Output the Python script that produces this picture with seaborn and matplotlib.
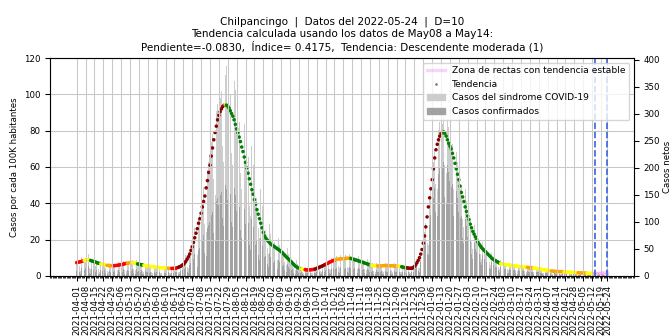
import pandas as pd
import seaborn as sns
import matplotlib
matplotlib.use("Agg")
import matplotlib.pyplot as plt
import matplotlib.dates as mdates
from matplotlib.lines import Line2D
from matplotlib.patches import Patch

ciudad = "Chilpancingo"
fecha_datos = "2022-05-24"
inicio = "2021-04-01"
poblacion = 336000

# curva de tendencia, casos por cada 100K habitantes (diaria, desde 2021-04-01)
tendencia_100k = [
    7.3, 7.5, 7.6, 7.8, 8.0, 8.2, 8.4,
    8.6, 8.7, 8.8, 8.7, 8.5, 8.2, 8.0,
    7.8, 7.6, 7.2, 7.0, 6.8, 6.6, 6.5,
    6.3, 6.1, 5.9, 5.8, 5.7, 5.6, 5.6,
    5.6, 5.6, 5.7, 5.7, 5.8, 5.9, 6.1,
    6.2, 6.3, 6.5, 6.7, 6.9, 7.0, 7.1,
    7.2, 7.3, 7.3, 7.1, 7.0, 6.8, 6.6,
    6.4, 6.3, 6.1, 6.0, 5.8, 5.7, 5.5,
    5.4, 5.3, 5.2, 5.1, 5.0, 5.0, 4.9,
    4.8, 4.7, 4.6, 4.6, 4.5, 4.4, 4.4,
    4.3, 4.2, 4.2, 4.1, 4.1, 4.1, 4.1,
    4.2, 4.2, 4.4, 4.7, 5.0, 5.3, 5.8,
    6.2, 7.0, 8.0, 9.2, 10.5, 12.0, 14.0,
    16.0, 18.5, 21.0, 23.5, 26.0, 29.0, 31.5,
    34.5, 38.0, 41.0, 44.0, 48.5, 52.5, 57.0,
    61.0, 66.0, 70.5, 75.0, 79.0, 82.5, 86.0,
    88.5, 90.5, 92.0, 93.3, 94.0, 94.3, 94.1,
    93.5, 92.5, 91.0, 89.5, 88.0, 86.0, 83.5,
    81.0, 79.0, 76.5, 74.0, 71.0, 68.5, 65.5,
    62.5, 59.5, 56.6, 53.5, 50.5, 47.5, 45.0,
    42.0, 39.5, 36.5, 34.0, 31.5, 29.0, 26.5,
    24.0, 22.0, 20.8, 19.8, 19.0, 18.2, 17.5,
    17.0, 16.5, 16.0, 15.5, 15.0, 14.5, 14.0,
    13.4, 12.7, 12.0, 11.3, 10.5, 9.8, 9.2,
    8.5, 7.8, 7.0, 6.3, 5.5, 5.0, 4.6,
    4.3, 4.0, 3.8, 3.6, 3.5, 3.4, 3.3,
    3.3, 3.3, 3.3, 3.4, 3.5, 3.6, 3.8,
    4.1, 4.4, 4.7, 5.0, 5.3, 5.6, 6.0,
    6.3, 6.7, 7.0, 7.4, 7.8, 8.1, 8.4,
    8.7, 9.0, 9.1, 9.2, 9.3, 9.4, 9.4,
    9.5, 9.5, 9.6, 9.7, 9.7, 9.7, 9.6,
    9.4, 9.1, 8.9, 8.7, 8.5, 8.2, 8.0,
    7.8, 7.5, 7.3, 7.0, 6.8, 6.5, 6.3,
    6.1, 5.9, 5.8, 5.6, 5.5, 5.5, 5.5,
    5.5, 5.5, 5.6, 5.6, 5.6, 5.7, 5.7,
    5.7, 5.6, 5.6, 5.6, 5.5, 5.5, 5.4,
    5.4, 5.3, 5.3, 5.2, 5.0, 4.8, 4.6,
    4.5, 4.4, 4.3, 4.2, 4.2, 4.2, 4.5,
    5.2, 6.0, 7.2, 8.5, 10.0, 12.0, 14.5,
    18.0, 22.0, 27.0, 32.5, 38.0, 43.0, 48.0,
    53.0, 59.0, 65.0, 69.5, 72.5, 75.0, 77.0,
    78.5, 79.5, 79.3, 78.5, 77.0, 75.0, 73.0,
    71.5, 70.0, 67.5, 65.0, 62.0, 59.0, 56.0,
    53.0, 49.5, 46.0, 43.5, 41.0, 38.0, 35.5,
    33.0, 31.0, 28.5, 26.5, 24.5, 23.0, 21.5,
    20.0, 18.5, 17.5, 16.5, 15.5, 14.7, 14.0,
    13.4, 12.6, 11.9, 11.2, 10.5, 9.7, 9.2,
    8.7, 8.3, 7.9, 7.5, 7.0, 6.8, 6.6,
    6.5, 6.3, 6.2, 6.1, 6.0, 5.9, 5.8,
    5.7, 5.6, 5.5, 5.4, 5.3, 5.2, 5.1,
    5.0, 5.0, 4.9, 4.8, 4.8, 4.7, 4.6,
    4.5, 4.5, 4.4, 4.3, 4.2, 4.1, 4.0,
    3.9, 3.8, 3.7, 3.5, 3.4, 3.3, 3.1,
    3.0, 2.9, 2.8, 2.7, 2.6, 2.5, 2.5,
    2.4, 2.4, 2.4, 2.3, 2.3, 2.3, 2.2,
    2.2, 2.1, 2.1, 2.0, 2.0, 1.9, 1.9,
    1.8, 1.8, 1.7, 1.7, 1.7, 1.6, 1.6,
    1.6, 1.5, 1.5, 1.5, 1.4, 1.4, 1.4,
    1.3, 1.3, 1.3,
]

# fecha en que empieza cada tramo de color de la tendencia
cambio_fechas = [
    "2021-04-01", "2021-04-07", "2021-04-12", "2021-04-20", "2021-04-25",
    "2021-04-30", "2021-05-11", "2021-05-15", "2021-05-19", "2021-05-24",
    "2021-06-12", "2021-06-15", "2021-06-20", "2021-07-27", "2021-07-28",
    "2021-09-25", "2021-09-28", "2021-10-06", "2021-10-15", "2021-10-22",
    "2021-11-03", "2021-11-19", "2021-11-24", "2021-12-10", "2021-12-13",
    "2021-12-17", "2022-01-14", "2022-01-15", "2022-03-01", "2022-03-22",
    "2022-03-27", "2022-04-10", "2022-04-20", "2022-05-01", "2022-05-08",
]
cambio_colores = [
    "red", "yellow", "green", "yellow", "orange",
    "red", "orange", "yellow", "green", "yellow",
    "orange", "red", "darkred", "yellow", "green",
    "yellow", "red", "darkred", "red", "orange",
    "green", "yellow", "orange", "yellow", "green",
    "darkred", "yellow", "green", "yellow", "orange",
    "yellow", "orange", "yellow", "orange", "yellow",
]

# casos netos diarios (desde 2021-04-01 hasta 2022-05-24)
casos_sindrome = [
    22, 31, 18, 9, 35, 28, 24,
    33, 27, 41, 14, 12, 30, 26,
    28, 19, 25, 12, 8, 27, 22,
    18, 24, 15, 9, 7, 23, 19,
    21, 17, 22, 8, 11, 25, 18,
    24, 20, 28, 10, 9, 26, 23,
    27, 22, 30, 13, 10, 29, 21,
    22, 19, 24, 9, 8, 22, 18,
    19, 15, 20, 7, 6, 19, 16,
    17, 14, 18, 6, 5, 17, 15,
    16, 13, 17, 6, 5, 15, 14,
    15, 17, 19, 7, 8, 21, 22,
    24, 29, 38, 16, 14, 45, 52,
    61, 70, 88, 42, 38, 105, 112,
    128, 140, 165, 96, 82, 196, 210,
    225, 248, 262, 180, 150, 305, 318,
    296, 330, 342, 240, 210, 372, 388,
    310, 318, 335, 228, 205, 360, 345,
    270, 255, 285, 190, 160, 300, 282,
    215, 198, 220, 130, 110, 240, 205,
    150, 132, 145, 88, 70, 160, 130,
    92, 80, 85, 52, 40, 96, 78,
    60, 55, 62, 35, 30, 70, 58,
    48, 42, 46, 25, 20, 52, 40,
    30, 26, 28, 14, 10, 30, 22,
    15, 14, 16, 7, 5, 16, 13,
    13, 12, 15, 6, 5, 16, 14,
    17, 16, 20, 9, 7, 22, 20,
    25, 24, 29, 13, 11, 33, 30,
    33, 30, 36, 18, 14, 39, 34,
    35, 32, 38, 17, 15, 41, 36,
    32, 29, 34, 15, 12, 37, 31,
    27, 24, 29, 12, 10, 31, 25,
    21, 19, 23, 9, 8, 24, 20,
    20, 18, 22, 9, 8, 23, 19,
    20, 19, 22, 10, 8, 23, 19,
    19, 17, 20, 8, 7, 21, 18,
    15, 14, 17, 7, 6, 18, 16,
    20, 24, 30, 15, 14, 42, 56,
    70, 82, 98, 60, 58, 140, 165,
    190, 210, 235, 170, 160, 270, 285,
    298, 282, 295, 205, 190, 290, 275,
    250, 238, 245, 160, 140, 230, 210,
    175, 160, 165, 105, 90, 160, 138,
    110, 98, 102, 62, 50, 95, 80,
    70, 64, 66, 40, 32, 62, 52,
    48, 42, 44, 26, 20, 42, 35,
    32, 29, 30, 17, 13, 29, 24,
    24, 22, 23, 12, 10, 23, 20,
    21, 20, 21, 10, 9, 21, 18,
    19, 17, 19, 9, 8, 18, 16,
    17, 15, 16, 8, 7, 16, 14,
    14, 12, 13, 6, 5, 13, 11,
    11, 10, 11, 5, 4, 10, 9,
    9, 8, 9, 4, 3, 9, 8,
    8, 7, 8, 3, 3, 8, 7,
    7, 6, 7, 3, 2, 7, 6,
    6, 5, 6, 2, 2, 6, 5,
    5, 4, 5, 2, 2, 5, 4,
    4, 3, 3, 1, 1, 2,
]
casos_confirmados = [
    9, 14, 7, 3, 15, 11, 10,
    14, 11, 18, 5, 4, 12, 10,
    12, 8, 10, 4, 3, 11, 9,
    7, 10, 6, 3, 2, 9, 8,
    8, 7, 9, 3, 4, 10, 7,
    10, 8, 12, 4, 3, 11, 9,
    11, 9, 13, 5, 4, 12, 8,
    9, 8, 10, 3, 3, 9, 7,
    8, 6, 8, 2, 2, 7, 6,
    7, 5, 7, 2, 2, 7, 6,
    6, 5, 7, 2, 2, 6, 5,
    6, 7, 8, 3, 3, 9, 10,
    11, 13, 17, 7, 6, 20, 24,
    28, 32, 40, 18, 16, 48, 52,
    58, 64, 75, 42, 36, 88, 95,
    100, 112, 118, 80, 66, 138, 145,
    132, 150, 155, 108, 92, 168, 160,
    140, 145, 152, 100, 90, 162, 150,
    120, 112, 128, 84, 70, 135, 124,
    96, 88, 98, 58, 48, 106, 90,
    66, 58, 64, 38, 30, 70, 56,
    40, 35, 37, 22, 17, 42, 34,
    26, 24, 27, 15, 12, 30, 25,
    20, 18, 20, 10, 8, 22, 17,
    12, 11, 12, 5, 4, 12, 9,
    6, 6, 7, 3, 2, 6, 5,
    5, 5, 6, 2, 2, 6, 6,
    7, 6, 8, 3, 3, 9, 8,
    10, 10, 12, 5, 4, 13, 12,
    13, 12, 15, 7, 5, 16, 14,
    14, 13, 15, 7, 6, 17, 14,
    13, 12, 14, 6, 5, 15, 12,
    11, 10, 12, 5, 4, 12, 10,
    8, 8, 9, 3, 3, 10, 8,
    8, 7, 9, 3, 3, 9, 8,
    8, 8, 9, 4, 3, 9, 8,
    8, 7, 8, 3, 3, 8, 7,
    6, 6, 7, 3, 2, 8, 7,
    10, 13, 17, 9, 8, 25, 34,
    45, 55, 66, 40, 38, 95, 112,
    130, 145, 162, 118, 110, 188, 200,
    215, 200, 210, 146, 135, 205, 192,
    175, 165, 170, 110, 96, 158, 144,
    118, 108, 110, 70, 60, 106, 92,
    72, 64, 66, 40, 32, 60, 50,
    44, 40, 41, 25, 20, 38, 32,
    29, 25, 26, 15, 12, 25, 21,
    18, 17, 17, 10, 7, 16, 13,
    13, 12, 12, 6, 5, 12, 11,
    11, 10, 11, 5, 4, 11, 9,
    10, 9, 10, 4, 4, 9, 8,
    8, 7, 8, 4, 3, 8, 7,
    7, 6, 6, 3, 2, 6, 5,
    5, 5, 5, 2, 2, 5, 4,
    4, 4, 4, 2, 1, 4, 4,
    4, 3, 4, 1, 1, 4, 3,
    3, 3, 3, 1, 1, 3, 3,
    3, 2, 3, 1, 1, 3, 2,
    2, 2, 2, 1, 1, 2, 2,
    2, 1, 1, 0, 0, 1,
]

# rectas con tendencia estable y ventana usada
zona_fechas = ["2022-05-14", "2022-05-24"]
zona_baja = [1.3, 0.8]
zona_alta = [1.3, 1.9]
lineas_ventana = ["2022-05-14", "2022-05-24"]

titulo = (f"{ciudad}  |  Datos del {fecha_datos}  |  D=10\n"
          "Tendencia calculada usando los datos de May08 a May14:\n"
          "Pendiente=-0.0830,  Índice= 0.4175,  Tendencia: Descendente moderada (1)")

df_tend = pd.DataFrame({
    "fecha": pd.date_range(inicio, periods=len(tendencia_100k), freq="D"),
    "valor": tendencia_100k,
})
cortes = pd.to_datetime(cambio_fechas)
idx = cortes.searchsorted(df_tend["fecha"], side="right") - 1
df_tend["nivel"] = [cambio_colores[i] for i in idx]

df_casos = pd.DataFrame({
    "fecha": pd.date_range(inicio, periods=len(casos_sindrome), freq="D"),
    "sindrome": casos_sindrome,
    "confirmados": casos_confirmados,
})

plt.rcParams["font.family"] = ["DejaVu Sans"]
fig, ax = plt.subplots(figsize=(7, 3.5), dpi=96)
fig.subplots_adjust(left=0.0744, right=0.9435, bottom=0.179, top=0.827)
ax2 = ax.twinx()

ax2.bar(df_casos["fecha"], df_casos["sindrome"], width=0.75, color="#cdcdcd")
ax2.bar(df_casos["fecha"], df_casos["confirmados"], width=0.75, color="#a2a2a2")
ax2.set_ylim(0, 120 * poblacion / 1e5)
ax2.set_ylabel("Casos netos", fontsize=6.5, labelpad=2)
ax2.tick_params(labelsize=6.5)

ax.set_zorder(ax2.get_zorder() + 1)
ax.patch.set_visible(False)

paleta = {c: c for c in set(cambio_colores)}
sns.scatterplot(data=df_tend, x="fecha", y="valor", hue="nivel", palette=paleta,
                s=7, linewidth=0, legend=False, ax=ax)

zf = pd.to_datetime(zona_fechas)
ax.plot(zf, zona_baja, color="violet", alpha=0.35, lw=2.5)
ax.plot(zf, zona_alta, color="violet", alpha=0.35, lw=2.5)
for f in lineas_ventana:
    ax.axvline(pd.Timestamp(f), color="royalblue", ls="--", lw=1.3)

ticks = list(pd.date_range(inicio, fecha_datos, freq="7D")) + [pd.Timestamp(fecha_datos)]
ax.set_xticks(ticks)
ax.xaxis.set_major_formatter(mdates.DateFormatter("%Y-%m-%d"))
ax.xaxis.set_minor_locator(mdates.DayLocator())
ax.tick_params(axis="x", labelrotation=90, labelsize=6.5)
ax.tick_params(axis="x", which="minor", length=1.5)
ax.tick_params(axis="y", labelsize=6.5)
ax.set_xlim(pd.Timestamp(inicio) - pd.Timedelta(days=21),
            pd.Timestamp(fecha_datos) + pd.Timedelta(days=21))
ax.set_ylim(0, 120)
ax.set_xlabel("")
ax.set_ylabel("Casos por cada 100K habitantes", fontsize=6.5)
ax.grid(True, color="#c8c8c8", lw=0.8)
ax.set_title(titulo, fontsize=7.8)

handles = [
    Line2D([], [], color="violet", alpha=0.35, lw=2.5),
    Line2D([], [], marker=".", ls="", color="grey", markersize=2),
    Patch(color="#cdcdcd"),
    Patch(color="#a2a2a2"),
]
labels = ["Zona de rectas con tendencia estable", "Tendencia",
          "Casos del sindrome COVID-19", "Casos confirmados"]
ax.legend(handles, labels, loc="upper right", fontsize=6.8)

fig.savefig("out.png", dpi=96)
